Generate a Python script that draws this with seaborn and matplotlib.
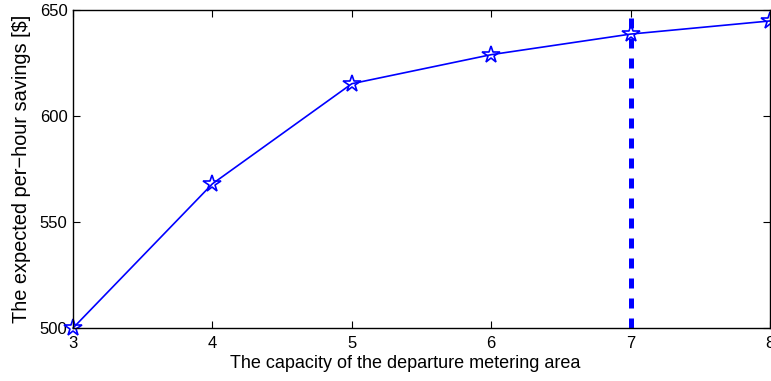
import numpy as np
import pandas as pd
import matplotlib
matplotlib.use("Agg")
import matplotlib.pyplot as plt
import seaborn as sns

# === Dados ===
capacity = [3, 4, 5, 6, 7, 8]
savings = [500.0, 568.0, 615.2, 628.9, 638.6, 644.8]
chosen_capacity = 7

df = pd.DataFrame({"capacity": capacity, "savings": savings})

sns.set_style("ticks")
plt.rcParams["font.family"] = ["Liberation Sans", "DejaVu Sans"]
plt.rcParams["text.color"] = "black"
plt.rcParams["axes.labelcolor"] = "black"
plt.rcParams["xtick.color"] = "black"
plt.rcParams["ytick.color"] = "black"
plt.rcParams["axes.edgecolor"] = "black"

fig = plt.figure(figsize=(7.71, 3.81), dpi=100)
ax = fig.add_axes([0.0947, 0.139, 0.904, 0.835])

sns.lineplot(data=df, x="capacity", y="savings", ax=ax, color="blue",
             linewidth=1.2, marker="*", markersize=13, markerfacecolor="none",
             markeredgecolor="blue", markeredgewidth=1.2, clip_on=False)
ax.axvline(chosen_capacity, color="blue", linestyle=(0, (2, 2)), linewidth=3.6,
           dash_capstyle="butt")

ax.set_xlim(3, 8)
ax.set_ylim(500, 650)
ax.set_xticks(capacity)
ax.set_yticks([500, 550, 600, 650])
ax.tick_params(direction="in", top=True, right=True, labelsize=12, length=5,
               width=0.8)
ax.tick_params(axis="x", pad=6)
ax.tick_params(axis="y", pad=4)
for s in ax.spines.values():
    s.set_linewidth(1.0)
    s.set_visible(True)
ax.set_xlabel("The capacity of the departure metering area", fontsize=13)
ax.set_ylabel("The expected per\u2212hour savings [$]", fontsize=14.4)
ax.xaxis.set_label_coords(0.476, -0.085)
ax.yaxis.set_label_coords(-0.06, 0.5)

fig.savefig("out.png", dpi=100)
